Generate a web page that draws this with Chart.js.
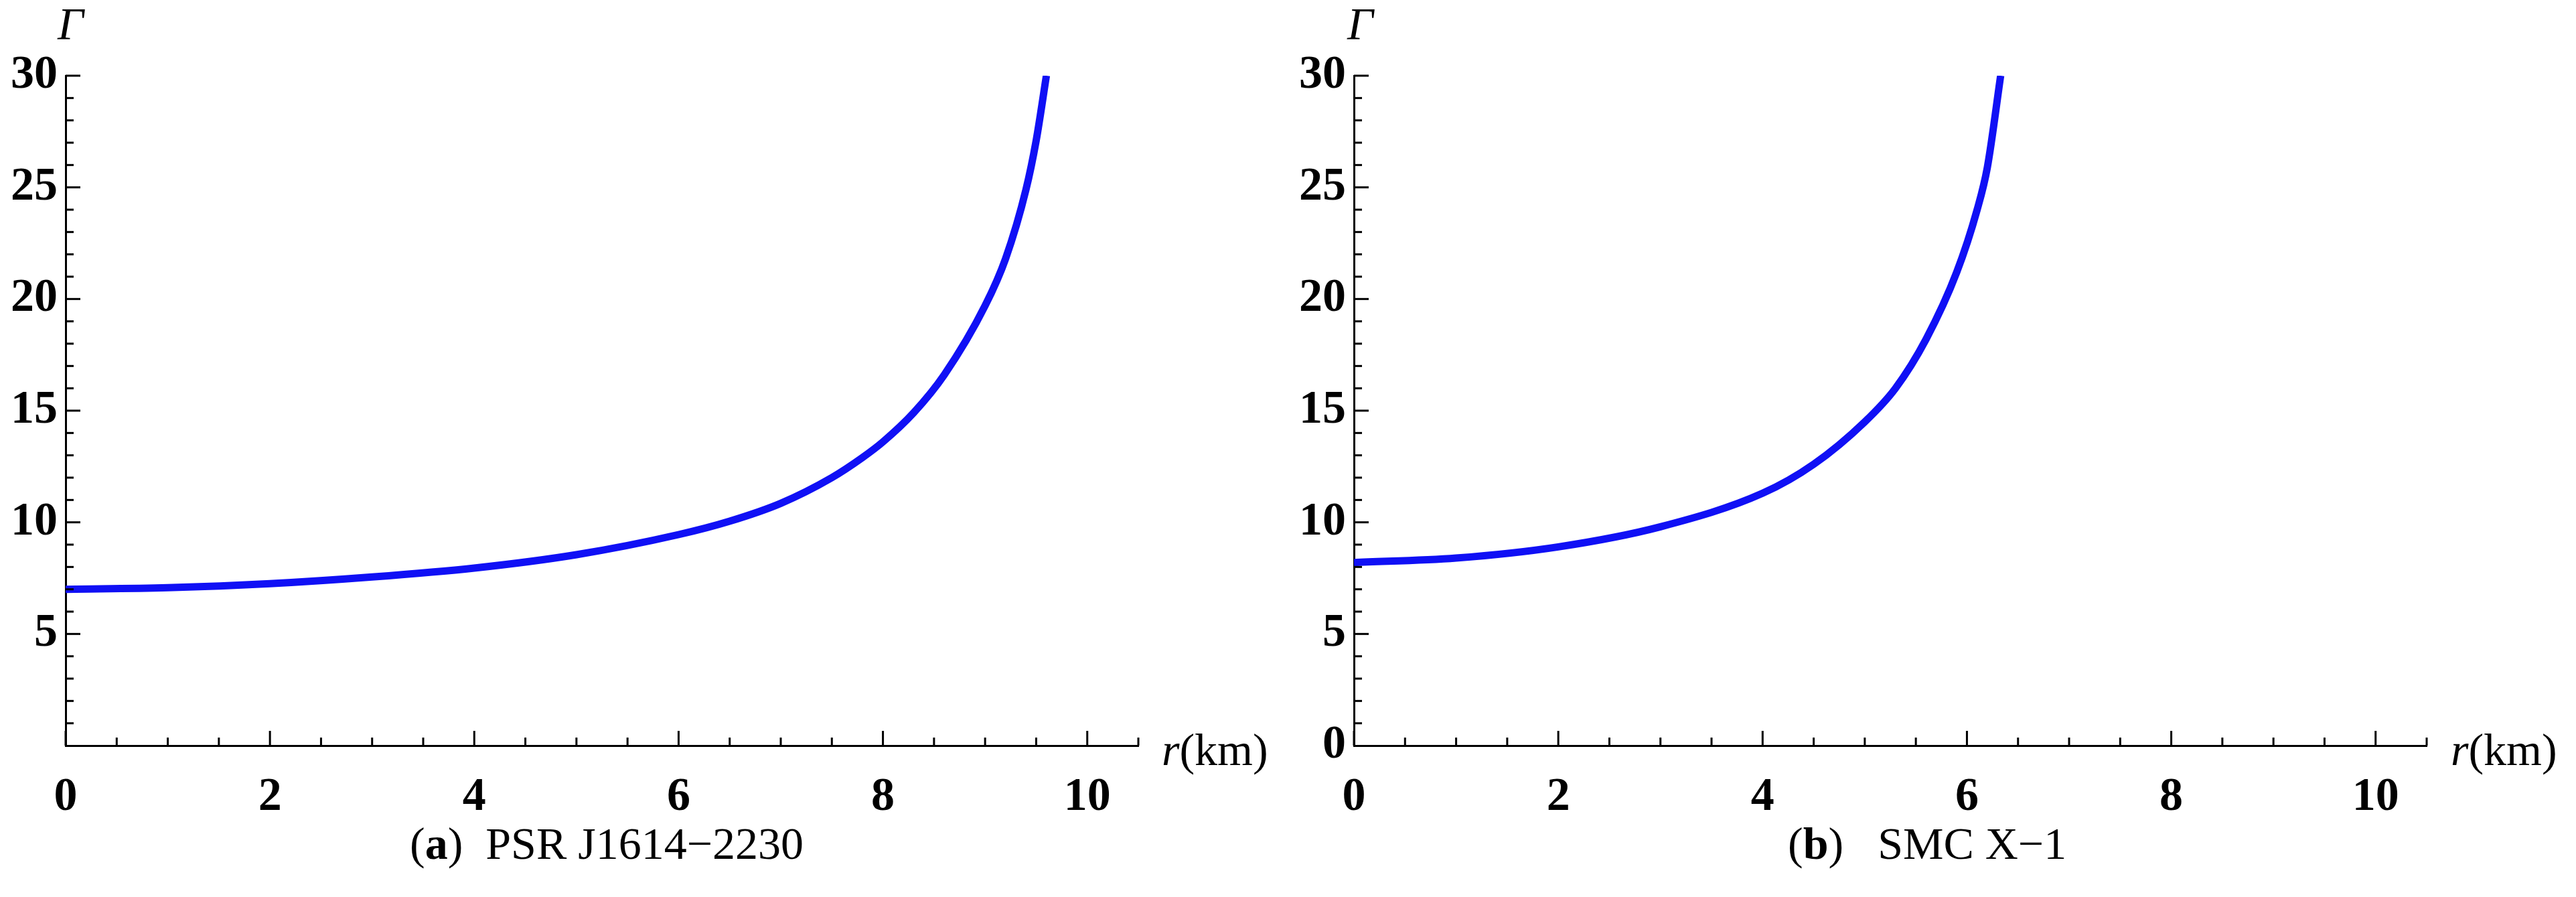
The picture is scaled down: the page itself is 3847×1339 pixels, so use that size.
<!DOCTYPE html>
<html><head><meta charset="utf-8">
<script src="https://cdn.jsdelivr.net/npm/chart.js@4/dist/chart.umd.min.js"></script>
<style>
body{margin:0;background:#fff;width:3847px;height:1339px;position:relative;overflow:hidden;font-family:"Liberation Serif",serif}
.p{position:absolute;top:0;width:1924px;height:1339px}
.t{position:absolute;font-size:68px;white-space:pre;color:#000}
</style></head><body>
<div class="p" style="left:0"><canvas id="c1"></canvas></div>
<div class="p" style="left:1924px"><canvas id="c2"></canvas></div>
<div class="t" style="left:86px;top:-4px;font-style:italic">Γ</div>
<div class="t" style="left:2012px;top:-4px;font-style:italic">Γ</div>
<div class="t" style="left:1735px;top:1080px"><i>r</i>(km)</div>
<div class="t" style="left:3660px;top:1080px"><i>r</i>(km)</div>
<div class="t" style="left:612px;top:1220px">(<b>a</b>)  PSR J1614−2230</div>
<div class="t" style="left:2670px;top:1220px">(<b>b</b>)   SMC X−1</div>
<script>
const rA=[0,1,2,3,4,5,6,6.5,7,7.5,7.8,8,8.3,8.6,9,9.2,9.4,9.5,9.6];
const gA=[7.0,7.07,7.25,7.55,7.95,8.55,9.45,10.05,10.85,12.0,12.9,13.6,14.9,16.6,19.7,21.8,24.9,27.1,30];
const rB=[0,1,2,3,4,4.5,5,5.3,5.6,5.9,6.1,6.2,6.33];
const gB=[8.2,8.4,8.9,9.8,11.3,12.6,14.5,16.0,18.2,21.2,24.0,25.9,30];
const xTicks=[0,2,4,6,8,10];
const yTicksA=[5,10,15,20,25,30];
const yTicksB=[0,5,10,15,20,25,30];

const tickPlugin={id:'tk',afterDraw(ch){
  const c=ch.ctx,x=ch.scales.x,y=ch.scales.y;
  c.save();c.strokeStyle='#000';c.lineWidth=3;
  for(let v=0;v<=10.5;v+=0.5){const px=x.getPixelForValue(v);const L=(v%2===0)?22:12;
    c.beginPath();c.moveTo(px,y.bottom);c.lineTo(px,y.bottom-L);c.stroke();}
  for(let v=1;v<=30;v++){const py=y.getPixelForValue(v);const L=(v%5===0)?22:12;
    c.beginPath();c.moveTo(x.left,py);c.lineTo(x.left+L,py);c.stroke();}
  c.restore();}};

function make(id,rs,gs,yt){
  const font={family:'Liberation Serif',size:70,weight:'bold'};
  new Chart(document.getElementById(id),{type:'line',
    data:{datasets:[{data:rs.map((r,i)=>({x:r,y:gs[i]})),borderColor:'#1010f5',borderWidth:11,pointRadius:0,cubicInterpolationMode:'monotone',fill:false}]},
    options:{responsive:true,maintainAspectRatio:false,animation:false,
      layout:{padding:{left:0,top:113,right:224,bottom:0}},
      plugins:{legend:{display:false},tooltip:{enabled:false}},
      scales:{
        x:{type:'linear',min:0,max:10.5,grid:{display:false},border:{color:'#000',width:3},
          afterBuildTicks:s=>{s.ticks=xTicks.map(v=>({value:v}))},
          afterFit:s=>{s.height=226},
          ticks:{font,color:'#000',padding:28,maxRotation:0}},
        y:{type:'linear',min:0,max:30,grid:{display:false},border:{color:'#000',width:3},
          afterBuildTicks:s=>{s.ticks=yt.map(v=>({value:v}))},
          afterFit:s=>{s.width=98},
          ticks:{font,color:'#000',padding:4}}}},
    plugins:[tickPlugin]});
}
make('c1',rA,gA,yTicksA);
make('c2',rB,gB,yTicksB);
</script></body></html>
